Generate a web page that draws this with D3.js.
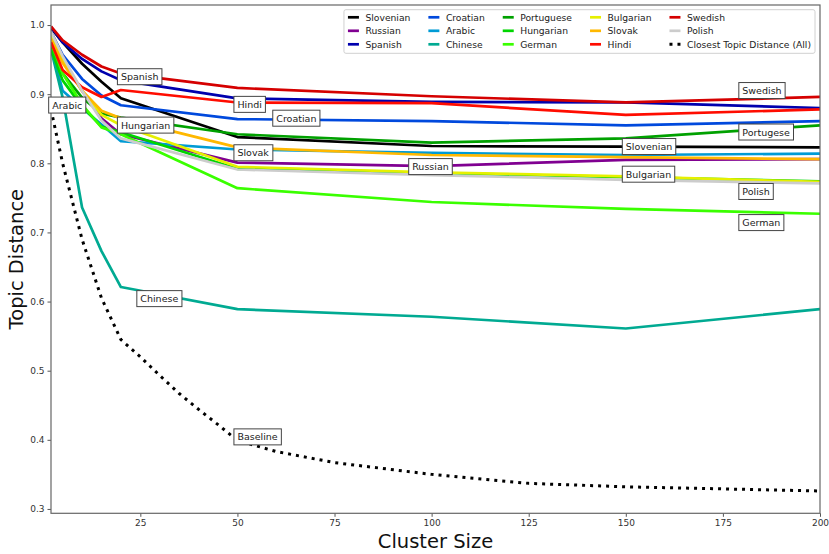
<!DOCTYPE html>
<html>
<head>
<meta charset="utf-8">
<script src="https://cdn.jsdelivr.net/npm/d3@7"></script>
<style>
  body { margin: 0; background: #fff; }
  svg { display: block; font-family: "DejaVu Sans", sans-serif; }
</style>
</head>
<body>
<svg id="chart" width="829" height="554"></svg>
<script>
// cluster sizes shared by every language curve
const clusterSizes = [2, 5, 10, 15, 20, 50, 100, 150, 200];

const languages = ["Slovenian", "Russian", "Spanish", "Croatian", "Arabic", "Chinese", "Portuguese",
  "Hungarian", "German", "Bulgarian", "Slovak", "Hindi", "Swedish", "Polish"];

const slovenian  = [0.996, 0.975, 0.944, 0.918, 0.894, 0.838, 0.825, 0.824, 0.823];
const russian    = [0.990, 0.950, 0.905, 0.865, 0.842, 0.801, 0.796, 0.805, 0.806];
const spanish    = [0.997, 0.975, 0.951, 0.933, 0.920, 0.894, 0.889, 0.888, 0.880];
const croatian   = [0.990, 0.957, 0.922, 0.898, 0.884, 0.864, 0.861, 0.855, 0.861];
const arabic     = [0.968, 0.905, 0.880, 0.856, 0.832, 0.820, 0.815, 0.812, 0.814];
const chinese    = [0.965, 0.895, 0.736, 0.673, 0.621, 0.589, 0.578, 0.561, 0.589];
const portuguese = [0.970, 0.930, 0.895, 0.872, 0.866, 0.842, 0.830, 0.836, 0.855];
const hungarian  = [0.965, 0.920, 0.882, 0.853, 0.845, 0.792, 0.786, 0.780, 0.774];
const german     = [0.975, 0.930, 0.885, 0.852, 0.842, 0.764, 0.744, 0.734, 0.727];
const bulgarian  = [0.985, 0.950, 0.905, 0.870, 0.855, 0.795, 0.787, 0.781, 0.773];
const slovak     = [0.980, 0.945, 0.905, 0.876, 0.865, 0.823, 0.812, 0.809, 0.806];
const hindi      = [0.975, 0.935, 0.910, 0.896, 0.906, 0.888, 0.887, 0.870, 0.878];
const swedish    = [0.998, 0.978, 0.957, 0.940, 0.930, 0.909, 0.897, 0.888, 0.896];
const polish     = [0.990, 0.955, 0.905, 0.862, 0.836, 0.791, 0.783, 0.776, 0.771];

const seriesValues = [slovenian, russian, spanish, croatian, arabic, chinese, portuguese,
  hungarian, german, bulgarian, slovak, hindi, swedish, polish];

// nipy_spectral sampled at 14 points
const langColors = ["#000000", "#800091", "#0000ae", "#0049dd", "#009bd5", "#00aa92", "#00a100",
  "#00d500", "#3aff00", "#e6f000", "#ffb800", "#ff0c00", "#d50000", "#cccccc"];

// closest topic distance over all languages (baseline)
const baselineSizes = [2, 5, 10, 15, 20, 25, 30, 35, 40, 45, 50, 60, 75, 100, 125, 150, 175, 200];
const baselineDist  = [0.878, 0.80, 0.69, 0.605, 0.545, 0.52, 0.493, 0.467, 0.444, 0.422, 0.399,
  0.383, 0.367, 0.35, 0.337, 0.332, 0.329, 0.326];

const xTicks = [25, 50, 75, 100, 125, 150, 175, 200];
const yTicks = [0.3, 0.4, 0.5, 0.6, 0.7, 0.8, 0.9, 1.0];

// annotation boxes: text, x (left of text), y (middle)
const labelNames = ["Arabic", "Spanish", "Hungarian", "Hindi", "Croatian", "Slovak", "Chinese", "Baseline",
  "Russian", "Slovenian", "Bulgarian", "Swedish", "Portugese", "Polish", "German"];
const labelX = [2.3, 20, 20, 50, 60, 50, 25, 50, 95, 150, 150, 180, 180, 180, 180];
const labelY = [0.884, 0.925, 0.855, 0.885, 0.865, 0.815, 0.604, 0.404, 0.795, 0.824, 0.784, 0.905, 0.845, 0.759, 0.714];

const plot = { left: 51, right: 820, top: 5, bottom: 513.3 };

const svg = d3.select("#chart");

const x = d3.scaleLinear().domain([2, 200]).range([plot.left, plot.right]);
const y = d3.scaleLinear().domain([0.2937, 1.029]).range([plot.bottom, plot.top]);

svg.append("defs").append("clipPath").attr("id", "clip")
  .append("rect")
  .attr("x", plot.left).attr("y", plot.top)
  .attr("width", plot.right - plot.left).attr("height", plot.bottom - plot.top);

// axes
const xAxis = svg.append("g")
  .attr("transform", `translate(0,${plot.bottom})`)
  .call(d3.axisBottom(x).tickValues(xTicks).tickSize(3.5).tickPadding(3).tickFormat(d3.format("d")));
const yAxis = svg.append("g")
  .attr("transform", `translate(${plot.left},0)`)
  .call(d3.axisLeft(y).tickValues(yTicks).tickSize(3.5).tickPadding(3).tickFormat(d3.format(".1f")));

[xAxis, yAxis].forEach(g => {
  g.select(".domain").remove();
  g.selectAll("line").attr("stroke", "#555");
  g.selectAll("text").attr("font-size", 9).attr("fill", "#333")
    .attr("font-family", "DejaVu Sans, sans-serif");
});

// lines
const line = d3.line().x(d => x(d[0])).y(d => y(d[1]));
const lines = svg.append("g").attr("clip-path", "url(#clip)");

seriesValues.forEach((vals, i) => {
  lines.append("path")
    .datum(clusterSizes.map((c, j) => [c, vals[j]]))
    .attr("d", line)
    .attr("fill", "none")
    .attr("stroke", langColors[i])
    .attr("stroke-width", 2.7)
    .attr("stroke-linejoin", "round");
});

lines.append("path")
  .datum(baselineSizes.map((c, j) => [c, baselineDist[j]]))
  .attr("d", line)
  .attr("fill", "none")
  .attr("stroke", "#000")
  .attr("stroke-width", 3)
  .attr("stroke-dasharray", "3,5");

// spines
svg.append("rect")
  .attr("x", plot.left).attr("y", plot.top)
  .attr("width", plot.right - plot.left).attr("height", plot.bottom - plot.top)
  .attr("fill", "none").attr("stroke", "#666").attr("stroke-width", 1.2);

// annotation boxes
labelNames.forEach((name, i) => {
  const g = svg.append("g");
  const t = g.append("text")
    .attr("x", x(labelX[i]))
    .attr("y", y(labelY[i]))
    .attr("dy", "0.35em")
    .attr("font-size", 9.5)
    .attr("fill", "#222")
    .text(name);
  const bb = t.node().getBBox();
  g.insert("rect", "text")
    .attr("x", bb.x - 3.5).attr("y", bb.y - 2.5)
    .attr("width", bb.width + 7).attr("height", bb.height + 5)
    .attr("fill", "#fff").attr("stroke", "#444").attr("stroke-width", 1);
});

// axis titles
svg.append("text")
  .attr("x", (plot.left + plot.right) / 2).attr("y", 548)
  .attr("text-anchor", "middle").attr("font-size", 19.5).attr("fill", "#111")
  .text("Cluster Size");

svg.append("text")
  .attr("transform", `translate(23,${(plot.top + plot.bottom) / 2}) rotate(-90)`)
  .attr("text-anchor", "middle").attr("font-size", 19.5).attr("fill", "#111")
  .text("Topic Distance");

// legend, 5 columns x 3 rows, column-major
const legendItems = languages.map((l, i) => ({ name: l, color: langColors[i], dotted: false }))
  .concat([{ name: "Closest Topic Distance (All)", color: "#000", dotted: true }]);

const legend = svg.append("g");
const legendBg = legend.append("rect");
const rowH = 13.5, handleLen = 11, handlePad = 6.5, colGap = 18;
const nCols = 5, nRows = 3;

const items = legend.selectAll("g.item").data(legendItems).enter().append("g").attr("class", "item");
items.append("text")
  .attr("font-size", 9.2).attr("fill", "#222").attr("dy", "0.35em")
  .text(d => d.name);

const widths = [];
items.each(function (d, i) {
  const col = Math.floor(i / nRows);
  const w = d3.select(this).select("text").node().getComputedTextLength();
  widths[col] = Math.max(widths[col] || 0, w);
});

let colX = [];
let acc = 0;
for (let c = 0; c < nCols; c++) {
  colX.push(acc);
  acc += handleLen + handlePad + widths[c] + colGap;
}
const legendW = acc - colGap + 8;
const legendRight = 815, legendTop = 9.7;
const legendLeft = legendRight - legendW;

items.each(function (d, i) {
  const col = Math.floor(i / nRows), row = i % nRows;
  const gx = legendLeft + 4 + colX[col];
  const gy = legendTop + 7.6 + row * rowH;
  const g = d3.select(this);
  g.insert("line", "text")
    .attr("x1", gx).attr("x2", gx + handleLen)
    .attr("y1", gy).attr("y2", gy)
    .attr("stroke", d.color)
    .attr("stroke-width", d.dotted ? 3 : 2.7)
    .attr("stroke-dasharray", d.dotted ? "3,5" : null);
  g.select("text").attr("x", gx + handleLen + handlePad).attr("y", gy);
});

legendBg
  .attr("x", legendLeft).attr("y", legendTop)
  .attr("width", legendW).attr("height", 43.6)
  .attr("rx", 2)
  .attr("fill", "#fff").attr("fill-opacity", 0.85)
  .attr("stroke", "#d0d0d0").attr("stroke-width", 1);
</script>
</body>
</html>
